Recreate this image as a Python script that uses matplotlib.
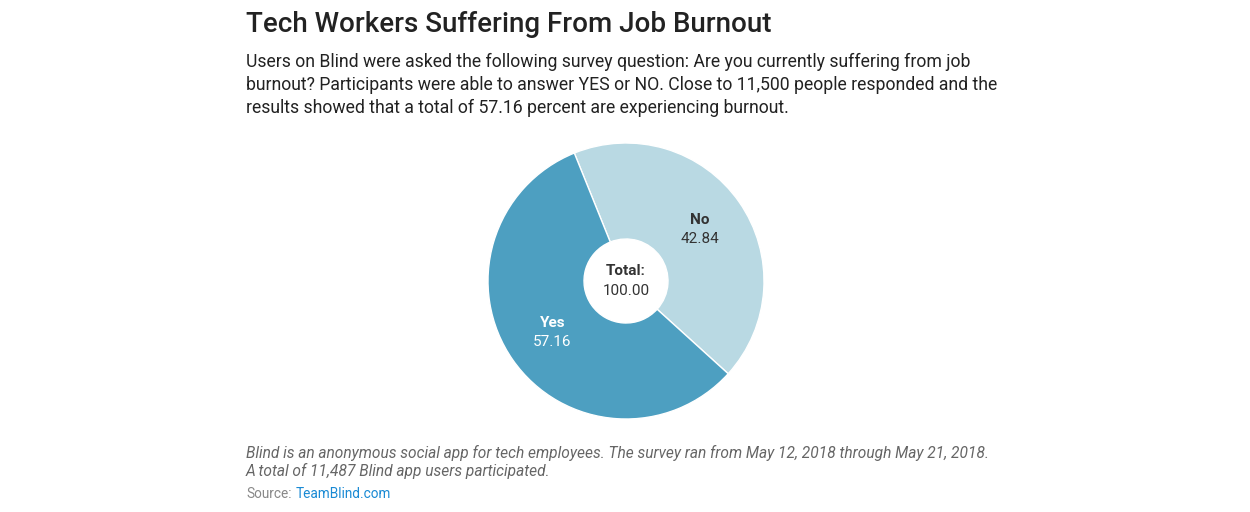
import numpy as np
import matplotlib
matplotlib.use("Agg")
import matplotlib.pyplot as plt

plt.rcParams['font.family'] = ['Roboto', 'DejaVu Sans']

# data
labels = ["No", "Yes"]
values = [42.84, 57.16]
colors = ["#b9d9e3", "#4d9fc1"]
label_colors = ["#333333", "#ffffff"]
total = sum(values)

title = "Tech Workers Suffering From Job Burnout"
subtitle = ["Users on Blind were asked the following survey question: Are you currently suffering from job",
            "burnout? Participants were able to answer YES or NO. Close to 11,500 people responded and the",
            "results showed that a total of 57.16 percent are experiencing burnout."]
notes = ["Blind is an anonymous social app for tech employees. The survey ran from May 12, 2018 through May 21, 2018.",
         "A total of 11,487 Blind app users participated."]

W, H = 1250, 512
fig = plt.figure(figsize=(W / 100, H / 100), dpi=100)

def px(x, y):
    return x / W, 1 - y / H

# donut, placed in pixels
cx, cy, r = 626, 281, 138
ax = fig.add_axes([(cx - r) / W, (H - cy - r) / H, 2 * r / W, 2 * r / H])
start = 112
wedges, _ = ax.pie(values, colors=colors, startangle=start, counterclock=False,
                   radius=1, wedgeprops=dict(width=1 - 42 / 138, edgecolor="white", linewidth=1))
ax.set_xlim(-1, 1)
ax.set_ylim(-1, 1)
ax.axis("off")

for w, lab, v, c in zip(wedges, labels, values, label_colors):
    mid = np.deg2rad((w.theta1 + w.theta2) / 2)
    x, y = 0.65 * np.cos(mid), 0.65 * np.sin(mid)
    ax.text(x, y + 0.07, lab, ha="center", va="center", fontsize=11, fontweight="bold", color=c)
    ax.text(x, y - 0.07, "%.2f" % v, ha="center", va="center", fontsize=11, color=c)

ax.text(0, 0.07, "Total:", ha="center", va="center", fontsize=11, fontweight="bold", color="#333333")
ax.text(0, -0.07, "%.2f" % total, ha="center", va="center", fontsize=11, color="#333333")

# texts
fig.text(*px(246, 32), title, fontsize=20, fontweight="medium", color="#222222", va="baseline")
for i, line in enumerate(subtitle):
    fig.text(*px(246, 67 + 23 * i), line, fontsize=12.7, color="#222222", va="baseline")
for i, line in enumerate(notes):
    fig.text(*px(246, 458 + 18 * i), line, fontsize=11.2, style="italic", color="#666666", va="baseline")
fig.text(*px(246, 498), "Source:", fontsize=9.8, color="#888888", va="baseline")
fig.text(*px(296, 498), "TeamBlind.com", fontsize=9.8, color="#1a8ad4", va="baseline")

fig.savefig("out.png", dpi=100, facecolor="white")
